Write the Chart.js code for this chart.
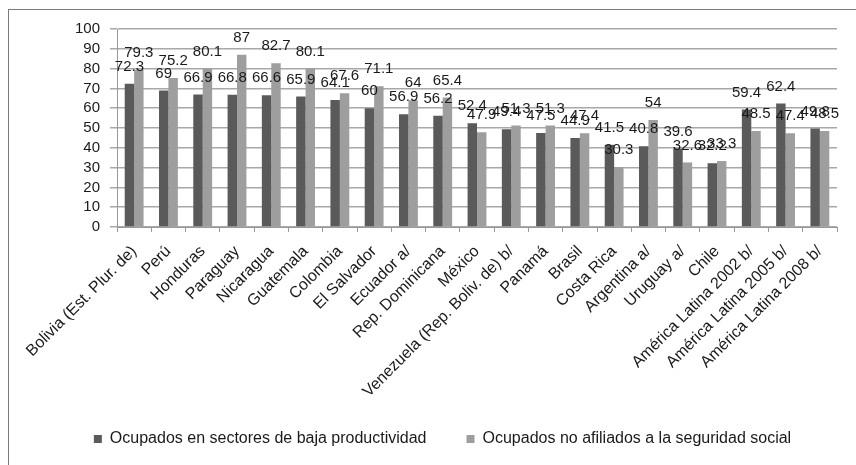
<!DOCTYPE html>
<html>
<head>
<meta charset="utf-8">
<script src="https://cdn.jsdelivr.net/npm/chart.js@4/dist/chart.umd.min.js"></script>
<style>
  html, body { margin: 0; padding: 0; background: #fff; overflow: hidden; }
  #wrap { position: relative; width: 856px; height: 465px; }
  #frame { position: absolute; left: 8px; top: 9px; width: 900px; height: 500px; border: 1px solid #7a7a7a; }
  canvas { position: absolute; left: 0; top: 0; }
</style>
</head>
<body>
<div id="wrap">
  <div id="frame"></div>
  <canvas id="chart" width="856" height="465"></canvas>
</div>
<script>
const categories = [
  "Bolivia (Est. Plur. de)", "Perú", "Honduras", "Paraguay", "Nicaragua", "Guatemala",
  "Colombia", "El Salvador", "Ecuador a/", "Rep. Dominicana", "México",
  "Venezuela (Rep. Boliv. de) b/", "Panamá", "Brasil", "Costa Rica", "Argentina a/",
  "Uruguay a/", "Chile", "América Latina 2002 b/", "América Latina 2005 b/", "América Latina 2008 b/"
];
const bajaProductividad = [72.3, 69, 66.9, 66.8, 66.6, 65.9, 64.1, 60, 56.9, 56.2, 52.4, 49.4, 47.5, 44.9, 41.5, 40.8, 39.6, 32.2, 59.4, 62.4, 49.8];
const noAfiliados = [79.3, 75.2, 80.1, 87, 82.7, 80.1, 67.6, 71.1, 64, 65.4, 47.9, 51.3, 51.3, 47.4, 30.3, 54, 32.6, 33.3, 48.5, 47.4, 48.5];
const yTicks = [0, 10, 20, 30, 40, 50, 60, 70, 80, 90, 100];

const FONT = "'Liberation Sans', Arial, sans-serif";

// value above every bar, centred on it
const barValues = {
  id: "barValues",
  afterDatasetsDraw(chart) {
    const ctx = chart.ctx;
    ctx.save();
    ctx.font = "15px " + FONT;
    ctx.fillStyle = "#1a1a1a";
    ctx.textAlign = "center";
    ctx.textBaseline = "middle";
    chart.data.datasets.forEach((ds, i) => {
      chart.getDatasetMeta(i).data.forEach((bar, j) => {
        ctx.fillText(String(ds.data[j]), bar.x, bar.y - 17);
      });
    });
    ctx.restore();
  }
};

// fixed legend band at the bottom, nudged a bit to the right;
// the x labels may run down into that band, so widen their clip box
const legendBand = {
  id: "legendBand",
  beforeInit(chart) {
    const fit = chart.legend.fit;
    chart.legend.fit = function () {
      fit.call(this);
      this.height = 74;
    };
  },
  afterLayout(chart) {
    chart.legend.left += 24;
    chart.legend.right += 24;
    chart.scales.x.bottom = chart.height;
  }
};

new Chart(document.getElementById("chart"), {
  type: "bar",
  data: {
    labels: categories,
    datasets: [
      { label: "Ocupados en sectores de baja productividad", data: bajaProductividad, backgroundColor: "#5a5a5a" },
      { label: "Ocupados no afiliados a la seguridad social", data: noAfiliados, backgroundColor: "#9e9e9e" }
    ]
  },
  options: {
    responsive: false,
    animation: false,
    devicePixelRatio: 1,
    layout: { padding: { top: 29, right: 19, left: 0, bottom: 0 } },
    datasets: { bar: { categoryPercentage: 0.55, barPercentage: 1 } },
    scales: {
      x: {
        grid: { display: true, drawOnChartArea: false, drawTicks: true, tickLength: 5, color: "#999", offset: true },
        border: { color: "#999" },
        ticks: { minRotation: 45, maxRotation: 45, autoSkip: false, color: "#1a1a1a", font: { family: FONT, size: 16 }, padding: 10 },
        afterFit(scale) { scale.height = 164; }
      },
      y: {
        min: 0, max: 100,
        afterBuildTicks(scale) { scale.ticks = yTicks.map(v => ({ value: v })); },
        grid: { color: "#a8a8a8", tickLength: 7, lineWidth: 1.5 },
        border: { color: "#999" },
        ticks: { autoSkip: false, color: "#1a1a1a", font: { family: FONT, size: 15 }, padding: 10 },
        afterFit(scale) { scale.width = 117; }
      }
    },
    plugins: {
      legend: {
        position: "bottom",
        labels: { boxWidth: 8, boxHeight: 8, padding: 40, color: "#1a1a1a", font: { family: FONT, size: 16 } }
      },
      tooltip: { enabled: false }
    }
  },
  plugins: [barValues, legendBand]
});
</script>
</body>
</html>
